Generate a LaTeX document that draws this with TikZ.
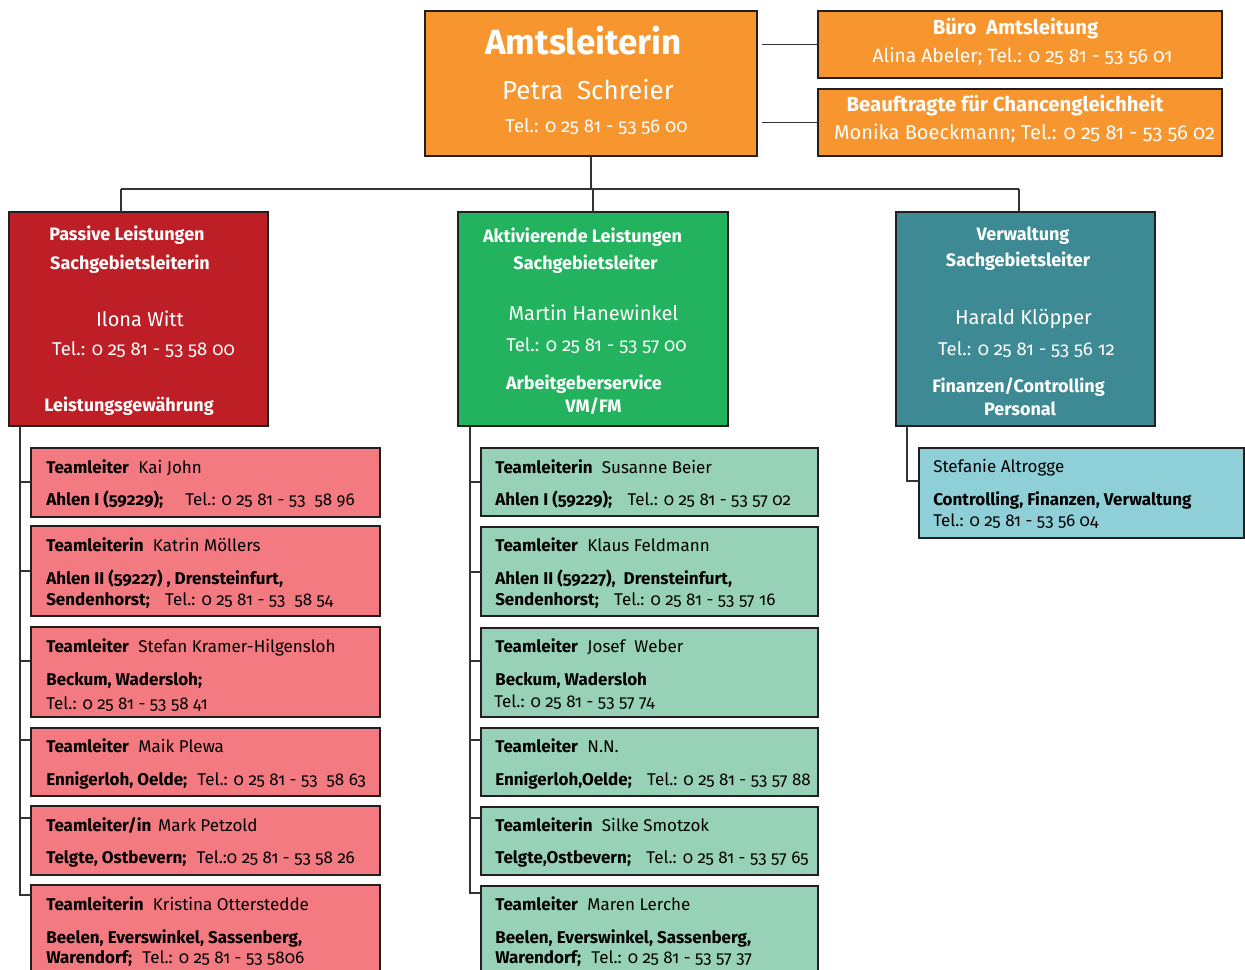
\documentclass[tikz,border=0pt]{standalone}
\usepackage{fontspec}
\setmainfont{Fira Sans}[Numbers=OldStyle]
\usepackage{tikz}
\usetikzlibrary{fit,calc}

\definecolor{amtorange}{RGB}{247,150,47}
\definecolor{passrot}{RGB}{190,30,38}
\definecolor{aktivgruen}{RGB}{35,179,95}
\definecolor{verwteal}{RGB}{62,138,148}
\definecolor{teamrot}{RGB}{242,122,128}
\definecolor{teamgruen}{RGB}{151,209,183}
\definecolor{teamblau}{RGB}{143,207,215}
\definecolor{boxline}{RGB}{35,31,32}
\definecolor{linegray}{RGB}{51,51,51}

\tikzset{
  box/.style={draw=boxline, line width=1pt, inner sep=0pt, outer sep=0pt},
  conn/.style={draw=linegray, line width=1.1pt},
  wtxt/.style={text=white, inner sep=0pt, anchor=base},
  head/.style={wtxt, font=\bfseries\fontsize{13.5}{16}\selectfont},
  sub/.style={wtxt, font=\fontsize{15}{18}\selectfont},
  tel/.style={wtxt, font=\fontsize{13.9}{17}\selectfont},
  team/.style={inner sep=0pt, anchor=base west, font=\fontsize{12.75}{15}\selectfont}
}

\begin{document}
\begin{tikzpicture}[x=0.75pt,y=0.75pt,yscale=-1,xscale=1]
%set diagram to 1245 x 970
\clip (0,0) rectangle (1245,970);

%Amtsleitung
\node [box, fill=amtorange, fit={(425,11) (757,156)}] (amt) {};
\node [wtxt, font=\bfseries\fontsize{26.25}{30}\selectfont] (amtA) at (583.5,55) {Amtsleiterin};
\node [wtxt, font=\fontsize{19.5}{23}\selectfont] (amtB) at (588,100) {Petra\ \ Schreier};
\node [tel] (amtC) at (596.5,133) {Tel.: 0 25 81 - 53 56 00};

%Stabsstellen
\node [box, fill=amtorange, fit={(818,11) (1222,78)}] (buero) {};
\node [wtxt, font=\bfseries\fontsize{15.25}{18}\selectfont] (bueroA) at (1015.5,35) {Büro\ \ Amtsleitung};
\node [wtxt, font=\fontsize{14.4}{17}\selectfont] (bueroB) at (1022.5,62.7) {Alina Abeler; Tel.: 0 25 81 - 53 56 01};
\node [box, fill=amtorange, fit={(818,89) (1222,156)}] (beauf) {};
\node [wtxt, font=\bfseries\fontsize{15.25}{18}\selectfont] (beaufA) at (1005,111.7) {Beauftragte für Chancengleichheit};
\node [sub] (beaufB) at (1024.5,140) {Monika Boeckmann; Tel.: 0 25 81 - 53 56 02};

%Sachgebiete
\node [box, fill=passrot, fit={(9,212) (268,426)}] (passiv) {};
\node [head] (passivA) at (127,240.7) {Passive Leistungen};
\node [head] (passivB) at (130,269) {Sachgebietsleiterin};
\node [sub] (passivC) at (140,326) {Ilona Witt};
\node [tel] (passivD) at (143.5,355) {Tel.: 0 25 81 - 53 58 00};
\node [head] (passivE) at (129,411.7) {Leistungsgewährung};

\node [box, fill=aktivgruen, fit={(458,212) (728,426)}] (aktiv) {};
\node [head] (aktivA) at (582.5,242.7) {Aktivierende Leistungen};
\node [head] (aktivB) at (585.5,269) {Sachgebietsleiter};
\node [sub] (aktivC) at (593.5,320.7) {Martin Hanewinkel};
\node [tel] (aktivD) at (596.5,351.7) {Tel.: 0 25 81 - 53 57 00};
\node [head] (aktivE) at (584,389) {Arbeitgeberservice};
\node [head] (aktivF) at (593.5,412.7) {VM/FM};

\node [box, fill=verwteal, fit={(896,212) (1155,426)}] (verw) {};
\node [head] (verwA) at (1023,240.7) {Verwaltung};
\node [head] (verwB) at (1018,266.7) {Sachgebietsleiter};
\node [sub] (verwC) at (1023.5,324) {Harald Klöpper};
\node [tel] (verwD) at (1026.5,355) {Tel.: 0 25 81 - 53 56 12};
\node [head] (verwE) at (1018.5,392.7) {Finanzen/Controlling};
\node [head] (verwF) at (1020,415) {Personal};

%Teams passive Leistungen
\node [box, fill=teamrot, fit={(31,448) (380,517)}] (p1) {};
\node [team] (p1a) at (46,473) {\textbf{Teamleiter}\hspace{.55em}Kai John};
\node [team] (p1b) at (46,505) {\textbf{Ahlen I (59229);}\hspace{1.3em}Tel.: 0 25 81 - 53\ \ 58 96};
\node [box, fill=teamrot, fit={(31,526) (380,616)}] (p2) {};
\node [team] (p2a) at (46,551) {\textbf{Teamleiterin}\hspace{.55em}Katrin Möllers};
\node [team] (p2b) at (46,584) {\textbf{Ahlen II (59227) , Drensteinfurt,}};
\node [team] (p2c) at (46,605) {\textbf{Sendenhorst;}\hspace{.9em}Tel.: 0 25 81 - 53\ \ 58 54};
\node [box, fill=teamrot, fit={(31,627) (380,717)}] (p3) {};
\node [team] (p3a) at (46,652) {\textbf{Teamleiter}\hspace{.55em}Stefan Kramer-Hilgensloh};
\node [team] (p3b) at (46,685) {\textbf{Beckum, Wadersloh;}};
\node [team] (p3c) at (46,709) {Tel.: 0 25 81 - 53 58 41};
\node [box, fill=teamrot, fit={(31,728) (380,796)}] (p4) {};
\node [team] (p4a) at (46,752) {\textbf{Teamleiter}\hspace{.55em}Maik Plewa};
\node [team] (p4b) at (46,785) {\textbf{Ennigerloh, Oelde;}\hspace{.6em}Tel.: 0 25 81 - 53\ \ 58 63};
\node [box, fill=teamrot, fit={(31,806) (380,875)}] (p5) {};
\node [team] (p5a) at (46,831) {\textbf{Teamleiter/in}\hspace{.4em}Mark Petzold};
\node [team] (p5b) at (46,863) {\textbf{Telgte, Ostbevern;}\hspace{.6em}Tel.:0 25 81 - 53 58 26};
\node [box, fill=teamrot, fit={(31,885) (380,985)}] (p6) {};
\node [team] (p6a) at (46,910) {\textbf{Teamleiterin}\hspace{.55em}Kristina Otterstedde};
\node [team] (p6b) at (46,943) {\textbf{Beelen, Everswinkel, Sassenberg,}};
\node [team] (p6c) at (46,963) {\textbf{Warendorf;}\hspace{.6em}Tel.: 0 25 81 - 53 5806};

%Teams aktivierende Leistungen
\node [box, fill=teamgruen, fit={(481,448) (818,516)}] (g1) {};
\node [team] (g1a) at (495,473) {\textbf{Teamleiterin}\hspace{.55em}Susanne Beier};
\node [team] (g1b) at (495,505) {\textbf{Ahlen I (59229);}\hspace{.9em}Tel.: 0 25 81 - 53 57 02};
\node [box, fill=teamgruen, fit={(481,527) (818,616)}] (g2) {};
\node [team] (g2a) at (495,551) {\textbf{Teamleiter}\hspace{.55em}Klaus Feldmann};
\node [team] (g2b) at (495,584) {\textbf{Ahlen II (59227),\ \ Drensteinfurt,}};
\node [team] (g2c) at (495,605) {\textbf{Sendenhorst;}\hspace{.9em}Tel.: 0 25 81 - 53 57 16};
\node [box, fill=teamgruen, fit={(481,628) (818,717)}] (g3) {};
\node [team] (g3a) at (495,652) {\textbf{Teamleiter}\hspace{.55em}Josef\ \ Weber};
\node [team] (g3b) at (495,685) {\textbf{Beckum, Wadersloh}};
\node [team] (g3c) at (494,707) {Tel.: 0 25 81 - 53 57 74};
\node [box, fill=teamgruen, fit={(481,728) (818,796)}] (g4) {};
\node [team] (g4a) at (495,752) {\textbf{Teamleiter}\hspace{.55em}N.N.};
\node [team] (g4b) at (495,785) {\textbf{Ennigerloh,Oelde;}\hspace{.9em}Tel.: 0 25 81 - 53 57 88};
\node [box, fill=teamgruen, fit={(481,807) (818,875)}] (g5) {};
\node [team] (g5a) at (495,831) {\textbf{Teamleiterin}\hspace{.55em}Silke Smotzok};
\node [team] (g5b) at (495,863) {\textbf{Telgte,Ostbevern;}\hspace{.9em}Tel.: 0 25 81 - 53 57 65};
\node [box, fill=teamgruen, fit={(481,886) (818,985)}] (g6) {};
\node [team] (g6a) at (495,910) {\textbf{Teamleiter}\hspace{.55em}Maren Lerche};
\node [team] (g6b) at (495,943) {\textbf{Beelen, Everswinkel, Sassenberg,}};
\node [team] (g6c) at (495,963) {\textbf{Warendorf;}\hspace{.6em}Tel.: 0 25 81 - 53 57 37};

%Verwaltung Team
\node [box, fill=teamblau, fit={(919,448) (1244,538)}] (v1) {};
\node [team] (v1a) at (933,472) {Stefanie Altrogge};
\node [team] (v1b) at (933,505) {\textbf{Controlling, Finanzen, Verwaltung}};
\node [team] (v1c) at (933,526) {Tel.: 0 25 81 - 53 56 04};

%Verbindungen
\coordinate (busL) at (121,189);
\coordinate (busR) at (1019,189);
\draw [conn] (busL) -- (busR);
\draw [conn] (amt.south) -- (amt.south |- busL);
\draw [conn] (busL) -- (busL |- passiv.north);
\draw [conn] (aktiv.north |- busL) -- (aktiv.north);
\draw [conn] (busR) -- (busR |- verw.north);
\draw [conn] ($(amt.east |- buero.west)+(5,0)$) -- (buero.west);
\draw [conn] ($(amt.east |- beauf.west)+(5,0)$) -- (beauf.west);

\coordinate (pbus) at (20,426);
\foreach \n/\dy in {p1/34,p2/45,p3/34,p4/12,p5/12,p6/10}
  \draw [conn] (pbus) |- ($(\n.north west)+(0,\dy)$);
\coordinate (gbus) at (470,426);
\foreach \n/\dy in {g1/34,g2/45,g3/33,g4/12,g5/11,g6/7}
  \draw [conn] (gbus) |- ($(\n.north west)+(0,\dy)$);
\coordinate (vbus) at (907,426);
\draw [conn] (vbus) |- ($(v1.north west)+(0,33)$);
\end{tikzpicture}
\end{document}
